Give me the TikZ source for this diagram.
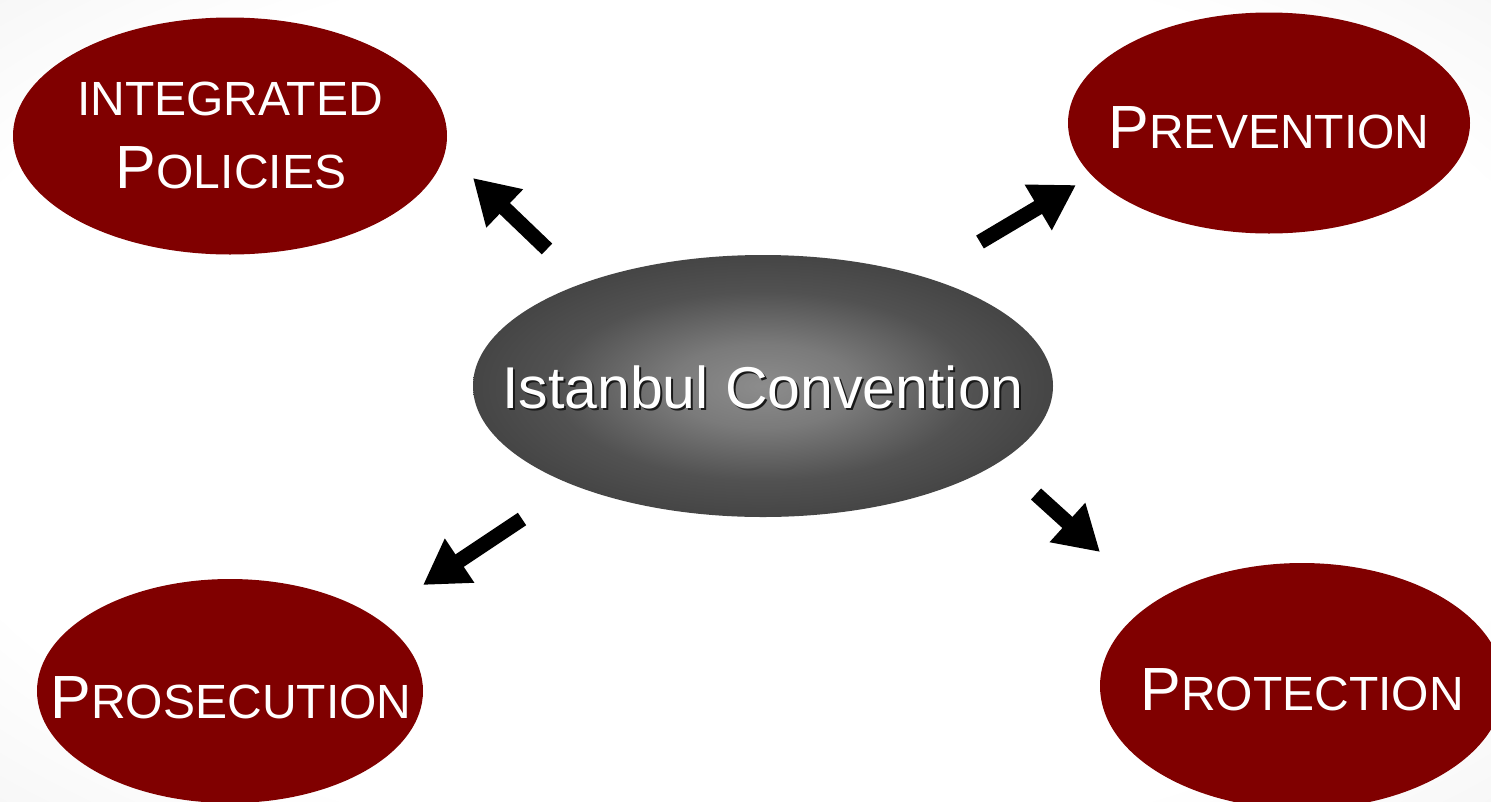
\documentclass[tikz,border=0pt]{standalone}
\usepackage{fontspec}
\setmainfont{Liberation Sans}
\usetikzlibrary{shapes.geometric,arrows.meta}
\definecolor{ICred}{HTML}{800000}
\pgfdeclareradialshading{bgshade}{\pgfpoint{0bp}{0bp}}{color(0bp)=(white); color(28bp)=(white); color(50bp)=(black!9); color(72bp)=(black!14)}
\pgfdeclareradialshading{ballshade}{\pgfpoint{0bp}{0bp}}{color(0bp)=(black!45); color(8bp)=(black!52); color(18bp)=(black!68); color(28bp)=(black!75); color(72bp)=(black!76)}
\newcommand\mybig{\fontsize{61}{61}\selectfont}
\newcommand\mysmall{\fontsize{48}{48}\selectfont}
\tikzset{
  redball/.style={ellipse, fill=ICred, inner sep=0pt},
  capstext/.style={text=white, inner sep=0pt, anchor=base},
  blockarrow/.style={line width=15pt, -{Triangle[length=44pt,width=50pt]}},
}
\begin{document}
\begin{tikzpicture}[x=1pt,y=-1pt]
\useasboundingbox (0,0) rectangle (1491,801);
\clip (0,0) rectangle (1491,801);
\shade[shading=bgshade] (0,0) rectangle (1491,801);
% outer ellipses
\node[redball, minimum width=434pt, minimum height=237pt] (ip) at (230,136) {};
\node[redball, minimum width=402pt, minimum height=221pt] (pv) at (1269,123) {};
\node[redball, minimum width=386pt, minimum height=224pt] (ps) at (230,691) {};
\node[redball, minimum width=404pt, minimum height=246pt] (pt) at (1302,686) {};
% centre ellipse
\node[ellipse, inner sep=0pt, minimum width=580pt, minimum height=262pt, shading=ballshade] (ic) at (763,386) {};
% labels
\node[capstext] (ip1) at (230,115) {\mysmall INTEGRATED};
\node[capstext] (ip2) at (231,188) {\mybig P\mysmall OLICIES};
\node[capstext] (pvt) at (1269,148) {\mybig P\mysmall REVENTION};
\node[capstext] (pst) at (231,718) {\mybig P\mysmall ROSECUTION};
\node[capstext] (ptt) at (1302,710) {\mybig P\mysmall ROTECTION};
\node[capstext, text=black!90] (ics) at ([shift={(2,2)}]763,408) {\fontsize{59}{59}\selectfont Istanbul Convention};
\node[capstext] (ict) at (763,408) {\fontsize{59}{59}\selectfont Istanbul Convention};
% arrows
\coordinate (a1s) at (547,249); \coordinate (a1e) at (473,178);
\coordinate (a2s) at (980,242); \coordinate (a2e) at (1076,185);
\coordinate (a3s) at (522,519); \coordinate (a3e) at (423,585);
\coordinate (a4s) at (1036,494); \coordinate (a4e) at (1100,552);
\draw[blockarrow] (a1s) -- (a1e);
\draw[blockarrow] (a2s) -- (a2e);
\draw[blockarrow] (a3s) -- (a3e);
\draw[blockarrow] (a4s) -- (a4e);
\end{tikzpicture}
\end{document}
